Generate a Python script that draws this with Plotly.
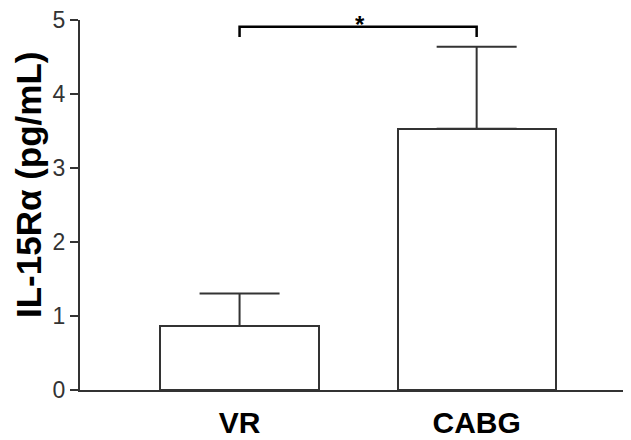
import plotly.graph_objects as go

categories = ["VR", "CABG"]
means = [0.865, 3.53]
sem = [0.44, 1.11]
bracket_top = 4.91
bracket_leg = 4.77
y_ticks = [0, 1, 2, 3, 4, 5]
y_title = "IL-15Rα (pg/mL)"

xpos = list(range(len(categories)))
line_col = "#333333"
font_fam = "Arial, 'Liberation Sans', sans-serif"

fig = go.Figure()
fig.add_trace(go.Bar(
    x=xpos, y=means, width=0.667,
    marker=dict(color="white", line=dict(color=line_col, width=2)),
    error_y=dict(type="data", symmetric=False, array=sem,
                 arrayminus=[0] * len(sem), width=40, thickness=2,
                 color=line_col),
    showlegend=False,
))
fig.add_trace(go.Scatter(
    x=[xpos[0], xpos[0], xpos[1], xpos[1]],
    y=[bracket_leg, bracket_top, bracket_top, bracket_leg],
    mode="lines", line=dict(color="black", width=2.5),
    showlegend=False, hoverinfo="skip", cliponaxis=False,
))
fig.add_annotation(
    x=(xpos[0] + xpos[1]) / 2 + 0.01, y=bracket_top, text="<b>*</b>",
    showarrow=False, yanchor="bottom", yshift=0, height=14, valign="top",
    font=dict(size=24, color="black", family=font_fam),
)
fig.add_annotation(
    xref="paper", yref="paper", x=0, y=0.554, xshift=-52,
    xanchor="center", yanchor="middle", textangle=-90,
    text=f"<b>{y_title}</b>", showarrow=False,
    font=dict(size=35, color="black", family=font_fam),
)

fig.update_layout(
    width=631, height=440,
    margin=dict(l=72, r=8, t=12, b=58),
    plot_bgcolor="white", paper_bgcolor="white",
    font=dict(family=font_fam),
    bargap=0,
)
fig.update_xaxes(
    range=[-0.673, 1.651], tickvals=xpos,
    ticktext=[f"<b>{c}</b>" for c in categories],
    tickfont=dict(size=30, color="black"),
    showline=True, linecolor=line_col, linewidth=2,
    ticks="", showgrid=False, zeroline=False, automargin=False,
    ticklabelstandoff=5,
)
fig.update_yaxes(
    range=[0, 5], tickvals=y_ticks,
    tickfont=dict(size=23, color=line_col),
    showline=True, linecolor=line_col, linewidth=2,
    ticks="outside", ticklen=8, tickwidth=2, tickcolor=line_col,
    showgrid=False, zeroline=False, automargin=False,
    ticklabeloverflow="allow",
)
fig.write_html("out.html")
